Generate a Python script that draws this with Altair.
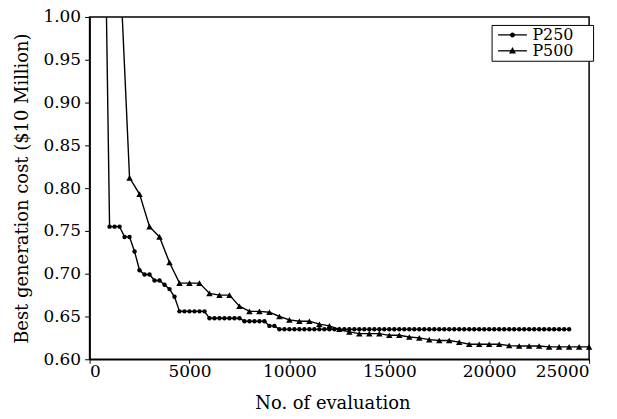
import altair as alt
import pandas as pd

# ---- data ----
series_names = ["P250", "P500"]

p250_start, p250_step = 750, 250
p250_cost = [
    1.15,
    0.755, 0.755, 0.755, 0.743, 0.743, 0.726, 0.704, 0.699, 0.699, 0.692,
    0.692, 0.687, 0.682, 0.673, 0.656,
    0.656, 0.656, 0.656, 0.656, 0.656,
    0.648, 0.648, 0.648, 0.648, 0.648, 0.648, 0.648,
    0.6445, 0.6445, 0.6445, 0.6445, 0.6445,
    0.639, 0.639,
    0.635, 0.635, 0.635, 0.635, 0.635, 0.635, 0.635, 0.635, 0.635, 0.635,
    0.635, 0.635, 0.635, 0.635, 0.635, 0.635, 0.635, 0.635, 0.635, 0.635,
    0.635, 0.635, 0.635, 0.635, 0.635, 0.635, 0.635, 0.635, 0.635, 0.635,
    0.635, 0.635, 0.635, 0.635, 0.635, 0.635, 0.635, 0.635, 0.635, 0.635,
    0.635, 0.635, 0.635, 0.635, 0.635, 0.635, 0.635, 0.635, 0.635, 0.635,
    0.635, 0.635, 0.635, 0.635, 0.635, 0.635, 0.635, 0.635, 0.635,
]

p500_start, p500_step = 1500, 500
p500_cost = [
    1.07, 0.812, 0.793, 0.755, 0.743, 0.713, 0.689, 0.689, 0.689, 0.677,
    0.675, 0.675, 0.662, 0.656, 0.656, 0.655, 0.650, 0.646, 0.6445, 0.6445,
    0.641, 0.639, 0.635, 0.632, 0.630, 0.630, 0.630, 0.628, 0.628, 0.626,
    0.625, 0.623, 0.622, 0.622, 0.620, 0.6175, 0.6175, 0.6175, 0.6175, 0.616,
    0.6155, 0.6155, 0.6155, 0.6145, 0.6145, 0.6145, 0.6145, 0.6145,
]

x_ticks = [0, 5000, 10000, 15000, 20000, 25000]
y_ticks = [0.60, 0.65, 0.70, 0.75, 0.80, 0.85, 0.90, 0.95, 1.00]

# legend symbol paths (drawn at legend symbol size 196, i.e. 7 px per unit)
legend_line_path = "M-2.07,0L2.07,0"
legend_marker_paths = [
    "M0.357,0A0.357,0.357,0,1,1,-0.357,0A0.357,0.357,0,1,1,0.357,0Z",
    "M-0.5,0.37L0.5,0.37L0,-0.54Z",
]

rows = []
for i, v in enumerate(p250_cost):
    rows.append({"evals": p250_start + i * p250_step, "cost": v, "series": "P250"})
for i, v in enumerate(p500_cost):
    rows.append({"evals": p500_start + i * p500_step, "cost": v, "series": "P500"})
df = pd.DataFrame(rows)
df["series_mark"] = df["series"]

FONT = "DejaVu Serif"

x_enc = alt.X(
    "evals:Q",
    scale=alt.Scale(domain=[0, 25000], nice=False),
    axis=alt.Axis(values=x_ticks, title="No. of evaluation", format="d", titleX=244),
)
y_enc = alt.Y(
    "cost:Q",
    scale=alt.Scale(domain=[0.6, 1.0], nice=False, zero=False),
    axis=alt.Axis(values=y_ticks, title="Best generation cost ($10 Million)", format=".2f"),
)

legend_common = dict(
    orient="none",
    legendX=404,
    legendY=8,
    padding=2,
    rowPadding=-2,
    symbolSize=196,
    symbolStrokeWidth=1.3,
    symbolOffset=11,
    labelOffset=12,
    labelFont=FONT,
    labelFontSize=16,
    labelColor="black",
)

base = alt.Chart(df)

# lines; their legend draws the short line symbols, the labels and the frame
lines = base.mark_line(strokeWidth=1.4, clip=True).encode(
    x=x_enc,
    y=y_enc,
    color=alt.Color(
        "series:N",
        scale=alt.Scale(domain=series_names, range=["black", "black"]),
        legend=alt.Legend(
            **legend_common,
            title="\u00a0",
            titleOrient="right",
            titleFontSize=4,
            titlePadding=18,
            symbolType=legend_line_path,
            strokeColor="black",
            fillColor="white",
            zindex=0,
        ),
    ),
)

# visible markers
points = base.transform_filter("datum.cost <= 1.0").mark_point(
    filled=True, color="black", opacity=1
).encode(
    x=x_enc,
    y=y_enc,
    shape=alt.condition("datum.series == 'P250'", alt.value("circle"), alt.value("triangle-up")),
    size=alt.condition("datum.series == 'P250'", alt.value(20), alt.value(42)),
)

# invisible layer whose only job is the marker legend drawn on top of the line legend
legend_layer = base.mark_point(filled=True, color="black", opacity=0).encode(
    x=x_enc,
    y=y_enc,
    shape=alt.Shape(
        "series_mark:N",
        scale=alt.Scale(range=legend_marker_paths),
        legend=alt.Legend(
            **legend_common,
            title=None,
            symbolOpacity=1,
            symbolFillColor="black",
            labelOpacity=0,
            zindex=1,
        ),
    ),
)

chart = (
    alt.layer(lines, points, legend_layer)
    .properties(
        width=502,
        height=344,
        autosize="none",
        padding={"left": 82, "top": 8, "right": 20, "bottom": 59},
    )
    .configure_view(stroke="black", strokeWidth=1.5)
    .configure_axis(
        grid=False,
        domainColor="black",
        domainWidth=1.5,
        tickColor="black",
        tickWidth=1,
        labelColor="black",
        titleColor="black",
        labelFont=FONT,
        titleFont=FONT,
        labelFontSize=17,
        titleFontSize=18,
        titleFontWeight="normal",
    )
    .configure_axisX(tickSize=4, labelPadding=0, titlePadding=15)
    .configure_axisY(tickSize=5, labelPadding=4, titlePadding=12)
)

chart.save("out.html", embed_options={"renderer": "svg", "actions": False})
